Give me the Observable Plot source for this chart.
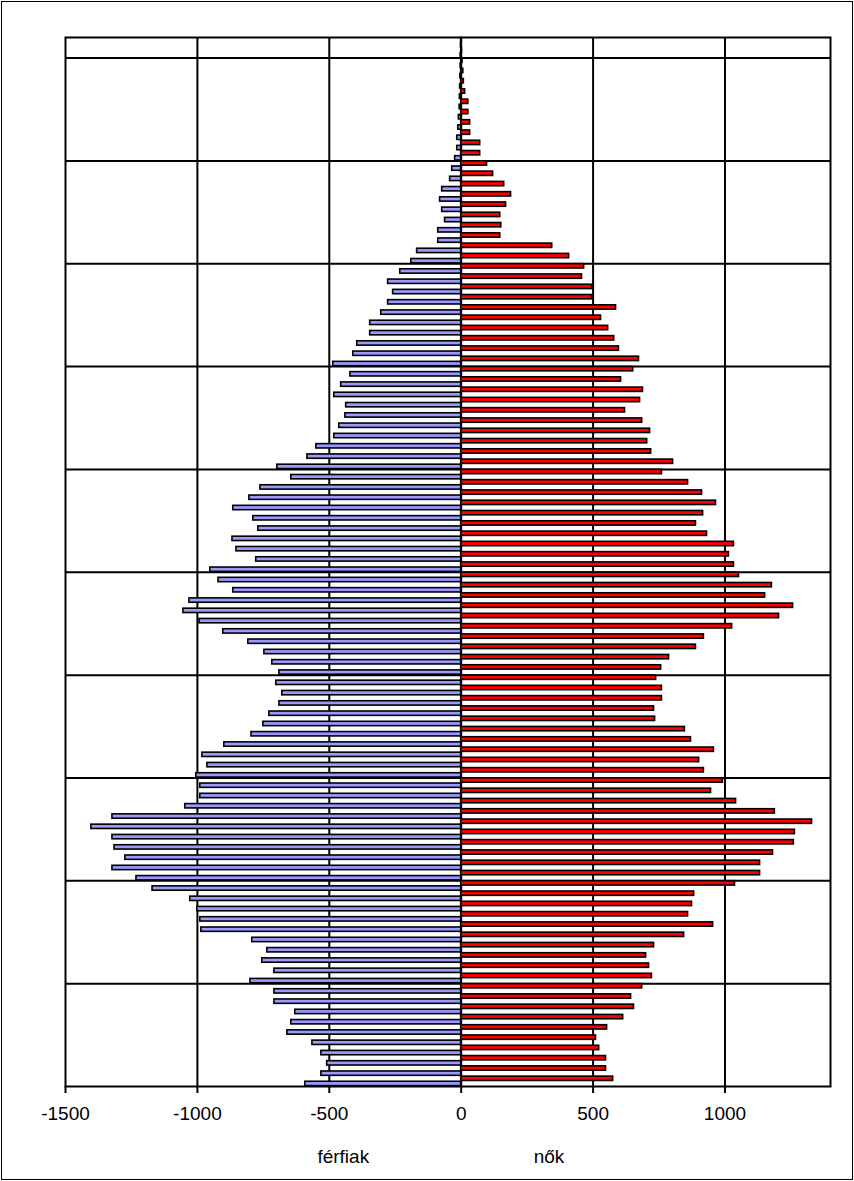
<!DOCTYPE html>
<html>
<head>
<meta charset="utf-8">
<script src="https://cdn.jsdelivr.net/npm/d3@7"></script>
<script src="https://cdn.jsdelivr.net/npm/@observablehq/plot@0.6"></script>
<style>
  html, body { margin: 0; padding: 0; background: #fff; }
  #chart svg { display: block; outline: 1.5px solid #000; outline-offset: -2px; }
</style>
</head>
<body>
<div id="chart"></div>
<script>
// Men (férfiak), age 0 .. 101 (negative values drawn to the left)
const men = [
  -591, -530, -508, -530, -564, -659, -644, -629, -708, -708,
  -799, -708, -754, -735, -792, -985, -989, -1000, -1027, -1170,
  -1231, -1322, -1273, -1314, -1322, -1402, -1322, -1046, -989, -989,
  -1004, -962, -981, -898, -795, -750, -727, -689, -678, -701,
  -689, -716, -746, -807, -902, -992, -1053, -1030, -864, -920,
  -951, -777, -852, -867, -769, -788, -864, -803, -761, -644,
  -697, -583, -549, -481, -462, -439, -436, -481, -455, -420,
  -485, -409, -394, -345, -345, -303, -277, -258, -277, -231,
  -189, -167, -87, -87, -61, -72, -80, -72, -42, -34,
  -23, -15, -15, -11, -9, -6, -5, -4, -3, -2,
  -2, -1
];
// Women (nők), age 0 .. 101
const women = [
  576, 549, 549, 523, 511, 553, 614, 655, 644, 686,
  723, 712, 701, 731, 845, 955, 860, 875, 883, 1038,
  1133, 1133, 1182, 1261, 1265, 1330, 1189, 1042, 947, 992,
  920, 902, 958, 871, 848, 735, 731, 761, 761, 739,
  758, 788, 890, 920, 1027, 1205, 1258, 1152, 1178, 1053,
  1034, 1015, 1034, 932, 890, 917, 966, 913, 860, 761,
  803, 720, 705, 716, 686, 621, 678, 689, 606, 652,
  674, 598, 580, 557, 530, 587, 496, 496, 458, 466,
  409, 345, 148, 152, 148, 170, 189, 163, 121, 98,
  72, 72, 34, 34, 27, 27, 15, 10, 8, 5,
  3, 2
];
const ages = men.map((_, i) => i);
const sexes = ["férfiak", "nők"];
const xTicks = [-1500, -1000, -500, 0, 500, 1000];
const xGrid = [-1000, -500, 0, 500, 1000];
const ageGrid = [10, 20, 30, 40, 50, 60, 70, 80, 90, 100];

const rows = ages.flatMap((a, i) => [
  {age: a, sex: sexes[0], value: men[i], slot: 0},
  {age: a, sex: sexes[1], value: women[i], slot: 1}
]);

const chart = Plot.plot({
  width: 854,
  height: 1181,
  marginLeft: 65,
  marginRight: 24,
  marginTop: 37,
  marginBottom: 95,
  style: {fontFamily: "'Liberation Sans', Arial, sans-serif", fontSize: "19px", color: "#000", background: "#fff"},
  x: {domain: [-1500, 1400], axis: null},
  y: {domain: [0, ages.length], axis: null},
  color: {domain: sexes, range: ["#9999ff", "#ff0000"]},
  marks: [
    Plot.ruleX(xGrid, {stroke: "#000", strokeWidth: 2}),
    Plot.ruleY(ageGrid, {stroke: "#000", strokeWidth: 2}),
    Plot.rect(rows, {
      x1: 0,
      x2: "value",
      y1: d => d.age + d.slot * 0.5,
      y2: d => d.age + d.slot * 0.5 + 0.5,
      insetTop: 0.4,
      insetBottom: 0.4,
      fill: "sex",
      stroke: "#000",
      strokeWidth: 1.6
    }),
    Plot.frame({stroke: "#000", strokeWidth: 2}),
    Plot.axisX({
      ticks: xTicks,
      tickSize: 7,
      tickPadding: 13,
      strokeWidth: 2,
      tickFormat: d => String(d),
      fontSize: 19,
      label: null
    }),
    Plot.text(sexes, {
      x: [-447, 333],
      text: d => d,
      frameAnchor: "bottom",
      dy: 76,
      fontSize: 19,
      fill: "#000"
    })
  ]
});
document.getElementById("chart").append(chart);
</script>
</body>
</html>
